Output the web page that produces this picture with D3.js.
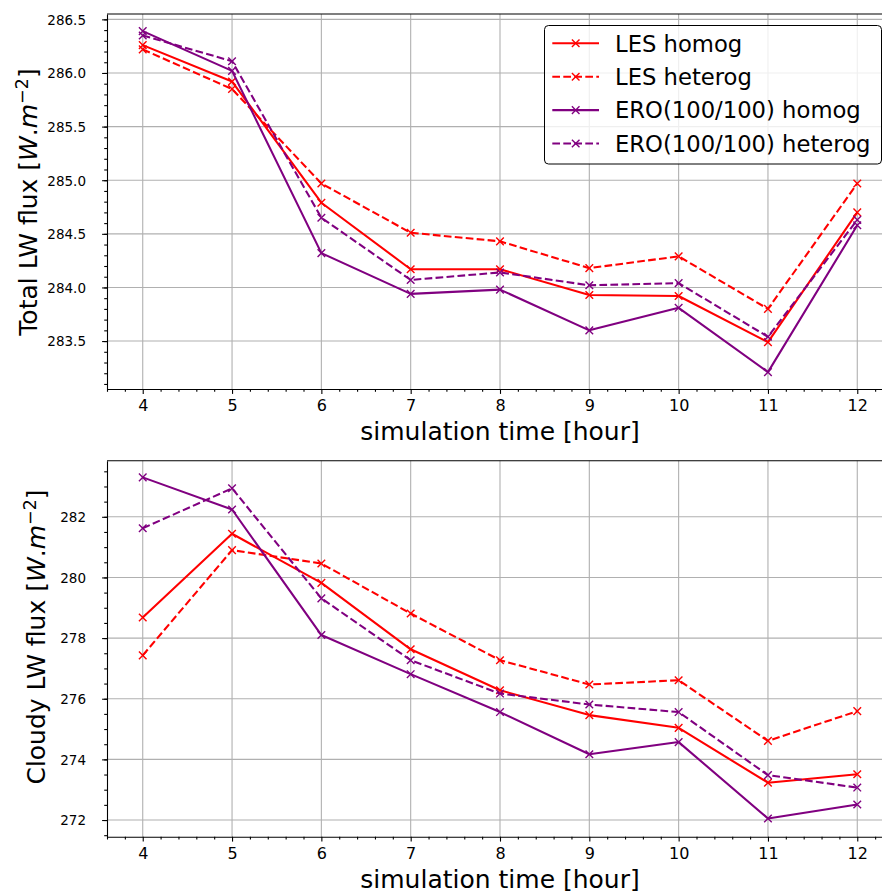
<!DOCTYPE html>
<html><head><meta charset="utf-8">
<script src="https://cdn.jsdelivr.net/npm/d3@7"></script>
<style>body{margin:0;background:#fff} svg{display:block} text{font-family:"DejaVu Sans";fill:#000}</style>
</head><body><svg id="c" width="882" height="891"></svg>
<script>
const hours = [4,5,6,7,8,9,10,11,12];
const xTicks = [4,5,6,7,8,9,10,11,12];
const totalLesHomog    = [286.26, 285.92, 284.79, 284.17, 284.17, 283.93, 283.92, 283.49, 284.70];
const totalLesHeterog  = [286.22, 285.85, 284.97, 284.51, 284.43, 284.18, 284.29, 283.80, 284.97];
const totalEroHomog    = [286.39, 286.02, 284.32, 283.94, 283.98, 283.60, 283.81, 283.21, 284.58];
const totalEroHeterog  = [286.35, 286.11, 284.65, 284.07, 284.14, 284.02, 284.04, 283.54, 284.63];
const cloudyLesHomog   = [278.68, 281.44, 279.82, 277.63, 276.28, 275.46, 275.04, 273.23, 273.51];
const cloudyLesHeterog = [277.43, 280.90, 280.46, 278.81, 277.27, 276.47, 276.61, 274.61, 275.59];
const cloudyEroHomog   = [283.30, 282.24, 278.10, 276.81, 275.56, 274.17, 274.57, 272.05, 272.51];
const cloudyEroHeterog = [281.62, 282.94, 279.31, 277.27, 276.17, 275.81, 275.56, 273.48, 273.07];
const totalYTicks  = [283.5, 284.0, 284.5, 285.0, 285.5, 286.0, 286.5];
const cloudyYTicks = [272, 274, 276, 278, 280, 282];
const seriesNames  = ["LES homog", "LES heterog", "ERO(100/100) homog", "ERO(100/100) heterog"];
const xLabel = "simulation time [hour]";

const styles = [
  {color:"#ff0000", dash:null},
  {color:"#ff0000", dash:"7.7,3.3"},
  {color:"#800080", dash:null},
  {color:"#800080", dash:"7.7,3.3"}
];

const svg = d3.select("#c");
const L = 107, R = 893;
const x = d3.scaleLinear().domain([3.6, 12.4]).range([L, R]);
const xMinor = d3.range(3.6, 12.41, 0.2).map(v => +v.toFixed(1)).filter(v => !xTicks.includes(v));

const panels = [
  {top:14, bottom:389, domain:[283.053, 286.55], ticks:totalYTicks, fmt:d3.format(".1f"),
   minor:d3.range(283.1, 286.55, 0.1).map(v=>+v.toFixed(1)),
   series:[totalLesHomog,totalLesHeterog,totalEroHomog,totalEroHeterog],
   yLabel:"Total LW flux", labelX:37, labelY:202, legend:true},
  {top:460.7, bottom:836.7, domain:[271.45, 283.85], ticks:cloudyYTicks, fmt:d3.format("d"),
   minor:d3.range(271.5, 283.85, 0.5).map(v=>+v.toFixed(1)),
   series:[cloudyLesHomog,cloudyLesHeterog,cloudyEroHomog,cloudyEroHeterog],
   yLabel:"Cloudy LW flux", labelX:45, labelY:637, legend:false}
];

function xMarker(g, cx, cy, color){
  const s = 3.8;
  g.append("path").attr("d", `M${cx-s},${cy-s}L${cx+s},${cy+s}M${cx-s},${cy+s}L${cx+s},${cy-s}`)
    .attr("stroke", color).attr("stroke-width", 1.4).attr("fill","none");
}

panels.forEach(p => {
  const y = d3.scaleLinear().domain(p.domain).range([p.bottom, p.top]);
  const g = svg.append("g");
  // grid
  g.append("g").selectAll("line").data(xTicks).join("line")
    .attr("x1", d=>x(d)).attr("x2", d=>x(d)).attr("y1", p.top).attr("y2", p.bottom)
    .attr("stroke","#b0b0b0").attr("stroke-width",1.1);
  g.append("g").selectAll("line").data(p.ticks).join("line")
    .attr("x1", L).attr("x2", R).attr("y1", d=>y(d)).attr("y2", d=>y(d))
    .attr("stroke","#b0b0b0").attr("stroke-width",1.1);
  // series
  const line = d3.line().x((d,i)=>x(hours[i])).y(d=>y(d));
  p.series.forEach((vals, si) => {
    const st = styles[si];
    g.append("path").datum(vals).attr("d", line).attr("fill","none")
      .attr("stroke", st.color).attr("stroke-width", 2.08)
      .attr("stroke-dasharray", st.dash).attr("stroke-linejoin","round");
    vals.forEach((v,i) => xMarker(g, x(hours[i]), y(v), st.color));
  });
  // axes
  const ax = g.append("g").attr("transform", `translate(0,${p.bottom})`)
    .call(d3.axisBottom(x).tickValues(xTicks).tickSize(4.9).tickSizeOuter(0).tickFormat(d3.format("d")));
  ax.selectAll("text").attr("dy", null).attr("y", 22.3).style("font-size","16px").style("font-family","DejaVu Sans");
  const axm = g.append("g").attr("transform", `translate(0,${p.bottom})`)
    .call(d3.axisBottom(x).tickValues(xMinor).tickSize(2.8).tickFormat(""));
  axm.select(".domain").remove();
  const ay = g.append("g").attr("transform", `translate(${L},0)`)
    .call(d3.axisLeft(y).tickValues(p.ticks).tickSize(4.9).tickSizeOuter(0).tickFormat(p.fmt));
  ay.selectAll("text").attr("x", -21).attr("dy","0.36em").style("font-size","13.5px").style("font-family","DejaVu Sans");
  const aym = g.append("g").attr("transform", `translate(${L},0)`)
    .call(d3.axisLeft(y).tickValues(p.minor).tickSize(2.8).tickFormat(""));
  aym.select(".domain").remove();
  svg.selectAll(".domain").attr("stroke","#000").attr("stroke-width",1.1);
  svg.selectAll(".tick line").attr("stroke","#000").attr("stroke-width",1.1);
  // top and right spines
  g.append("line").attr("x1",L).attr("x2",R).attr("y1",p.top).attr("y2",p.top).attr("stroke","#000").attr("stroke-width",1.1);
  g.append("line").attr("x1",R).attr("x2",R).attr("y1",p.top).attr("y2",p.bottom).attr("stroke","#000").attr("stroke-width",1.1);
  // x label
  g.append("text").attr("x", 500).attr("y", p.bottom + 51.2).attr("text-anchor","middle")
    .style("font-size","25px").text(xLabel);
  // y label
  const t = g.append("text").attr("transform", `translate(${p.labelX},${p.labelY}) rotate(-90)`)
    .attr("text-anchor","middle").style("font-size","25px");
  t.append("tspan").text(p.yLabel + " [");
  t.append("tspan").style("font-style","italic").text("W");
  t.append("tspan").text(".");
  t.append("tspan").style("font-style","italic").text("m");
  t.append("tspan").attr("dy","-0.5em").style("font-size","17.5px").text("−2");
  t.append("tspan").attr("dy","0.35em").text("]");

  if (p.legend) {
    const lg = g.append("g");
    lg.append("rect").attr("x",544.5).attr("y",25.5).attr("width",337).attr("height",138.5).attr("rx",4)
      .attr("fill","rgba(255,255,255,0.8)").attr("stroke","#000").attr("stroke-width",1);
    seriesNames.forEach((name, i) => {
      const ry = 43.3 + i*33.4;
      const st = styles[i];
      lg.append("line").attr("x1",552.3).attr("x2",599).attr("y1",ry).attr("y2",ry)
        .attr("stroke",st.color).attr("stroke-width",2.08).attr("stroke-dasharray",st.dash);
      xMarker(lg, 575.7, ry, st.color);
      lg.append("text").attr("x",615).attr("y",ry+8.3).style("font-size","22.7px").text(name);
    });
  }
});
</script></body></html>
